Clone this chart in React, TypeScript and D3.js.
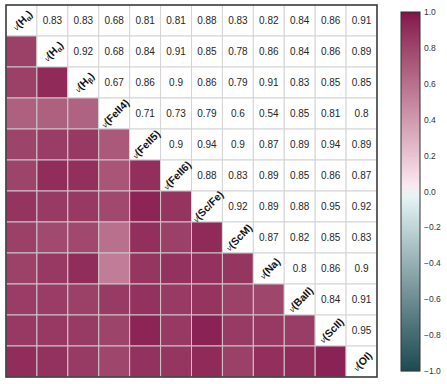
import React, { useEffect, useRef } from "react";
import * as d3 from "d3";

// line names (subscript part kept apart)
const names = ["H", "H", "H", "FeII4", "FeII5", "FeII6", "Sc/Fe", "ScM", "Na", "BaII", "ScII", "OI"];
const subs = ["α", "α", "β", "", "", "", "", "", "", "", "", ""];

// upper triangle, row by row (values right of the diagonal)
const row0 = [0.83, 0.83, 0.68, 0.81, 0.81, 0.88, 0.83, 0.82, 0.84, 0.86, 0.91];
const row1 = [0.92, 0.68, 0.84, 0.91, 0.85, 0.78, 0.86, 0.84, 0.86, 0.89];
const row2 = [0.67, 0.86, 0.9, 0.86, 0.79, 0.91, 0.83, 0.85, 0.85];
const row3 = [0.71, 0.73, 0.79, 0.6, 0.54, 0.85, 0.81, 0.8];
const row4 = [0.9, 0.94, 0.9, 0.87, 0.89, 0.94, 0.89];
const row5 = [0.88, 0.83, 0.89, 0.85, 0.86, 0.87];
const row6 = [0.92, 0.89, 0.88, 0.95, 0.92];
const row7 = [0.87, 0.82, 0.85, 0.83];
const row8 = [0.8, 0.86, 0.9];
const row9 = [0.84, 0.91];
const row10 = [0.95];
const upperRows = [row0, row1, row2, row3, row4, row5, row6, row7, row8, row9, row10];

const cbarTicks = [1.0, 0.8, 0.6, 0.4, 0.2, 0.0, -0.2, -0.4, -0.6, -0.8, -1.0];

const App: React.FC = () => {
  const ref = useRef<SVGSVGElement>(null);

  useEffect(() => {
    const svg = d3.select(ref.current);
    svg.selectAll("*").remove();

    const n = names.length;
    const left = 6, top = 5, right = 377, bottom = 377;

    const x = d3.scaleBand<number>().domain(d3.range(n)).range([left, right]);
    const y = d3.scaleBand<number>().domain(d3.range(n)).range([top, bottom]);

    const color = d3
      .scaleLinear<string>()
      .domain([-1, -0.03, 0, 0.03, 1])
      .range(["#1c4b53", "#e4f5f6", "#f0f0f0", "#fbe9f1", "#84124d"])
      .interpolate(d3.interpolateLab);

    // symmetric value lookup
    const val = (i: number, j: number) => {
      const a = Math.min(i, j), b = Math.max(i, j);
      return upperRows[a][b - a - 1];
    };

    const cells: { i: number; j: number }[] = [];
    for (let i = 0; i < n; i++) for (let j = 0; j < n; j++) cells.push({ i, j });

    const g = svg.append("g");

    g.selectAll("rect.cell")
      .data(cells)
      .join("rect")
      .attr("class", "cell")
      .attr("x", (d) => x(d.j)!)
      .attr("y", (d) => y(d.i)!)
      .attr("width", x.bandwidth())
      .attr("height", y.bandwidth())
      .attr("fill", (d) => (d.i > d.j ? color(val(d.i, d.j)) : "#ffffff"))
      .attr("stroke", (d) => (d.i > d.j ? "#cfc6cb" : "#d4d4d4"))
      .attr("stroke-width", 1);

    // numbers in upper triangle
    g.selectAll("text.num")
      .data(cells.filter((d) => d.j > d.i))
      .join("text")
      .attr("class", "num")
      .attr("x", (d) => x(d.j)! + x.bandwidth() / 2)
      .attr("y", (d) => y(d.i)! + y.bandwidth() / 2 + 3.5)
      .attr("text-anchor", "middle")
      .attr("font-family", "Liberation Sans, Arial, sans-serif")
      .attr("font-size", 10)
      .attr("fill", "#262626")
      .text((d) => String(val(d.i, d.j)));

    // diagonal labels, rotated along the diagonal
    const lab = g
      .selectAll("text.lab")
      .data(d3.range(n))
      .join("text")
      .attr("class", "lab")
      .attr(
        "transform",
        (i) => `translate(${x(i)! + x.bandwidth() / 2 + 1},${y(i)! + y.bandwidth() / 2}) rotate(-45) translate(0,3.5)`
      )
      .attr("text-anchor", "middle")
      .attr("font-family", "Liberation Sans, Arial, sans-serif")
      .attr("fill", "#111");
    lab.append("tspan").attr("font-size", 8).attr("font-style", "italic").text("ν");
    lab.append("tspan").attr("font-size", 10.5).attr("font-weight", "bold").text((i) => "(" + names[i]);
    lab
      .filter((i) => subs[i] !== "")
      .append("tspan")
      .attr("font-size", 7)
      .attr("font-weight", "bold")
      .attr("dy", 2)
      .text((i) => subs[i]);
    lab
      .append("tspan")
      .attr("font-size", 10.5)
      .attr("font-weight", "bold")
      .attr("dy", (i) => (subs[i] !== "" ? -2 : 0))
      .text(")");

    // frame
    g.append("rect")
      .attr("x", left)
      .attr("y", top)
      .attr("width", right - left)
      .attr("height", bottom - top)
      .attr("fill", "none")
      .attr("stroke", "#333")
      .attr("stroke-width", 1.5);

    // colorbar
    const cbX = 401, cbW = 19, cbTop = 12, cbBot = 371;
    const cy = d3.scaleLinear().domain([-1, 1]).range([cbBot, cbTop]);
    const steps = d3.range(cbBot, cbTop, -1);
    svg
      .append("g")
      .selectAll("rect")
      .data(steps)
      .join("rect")
      .attr("x", cbX)
      .attr("y", (p) => p - 1)
      .attr("width", cbW)
      .attr("height", 1.2)
      .attr("fill", (p) => color(cy.invert(p - 0.5)));
    svg
      .append("rect")
      .attr("x", cbX)
      .attr("y", cbTop)
      .attr("width", cbW)
      .attr("height", cbBot - cbTop)
      .attr("fill", "none")
      .attr("stroke", "#333")
      .attr("stroke-width", 1);

    svg
      .append("g")
      .selectAll("text")
      .data(cbarTicks)
      .join("text")
      .attr("x", 424)
      .attr("y", (t) => cy(t) + 3)
      .attr("font-family", "Liberation Sans, Arial, sans-serif")
      .attr("font-size", 8.5)
      .attr("fill", "#333")
      .text((t) => d3.format(".1f")(t).replace("-", "−"));
  }, []);

  return (
    <svg
      ref={ref}
      width={447}
      height={384}
      style={{ position: "absolute", left: 0, top: 0, background: "#fff" }}
    />
  );
};

export default App;
